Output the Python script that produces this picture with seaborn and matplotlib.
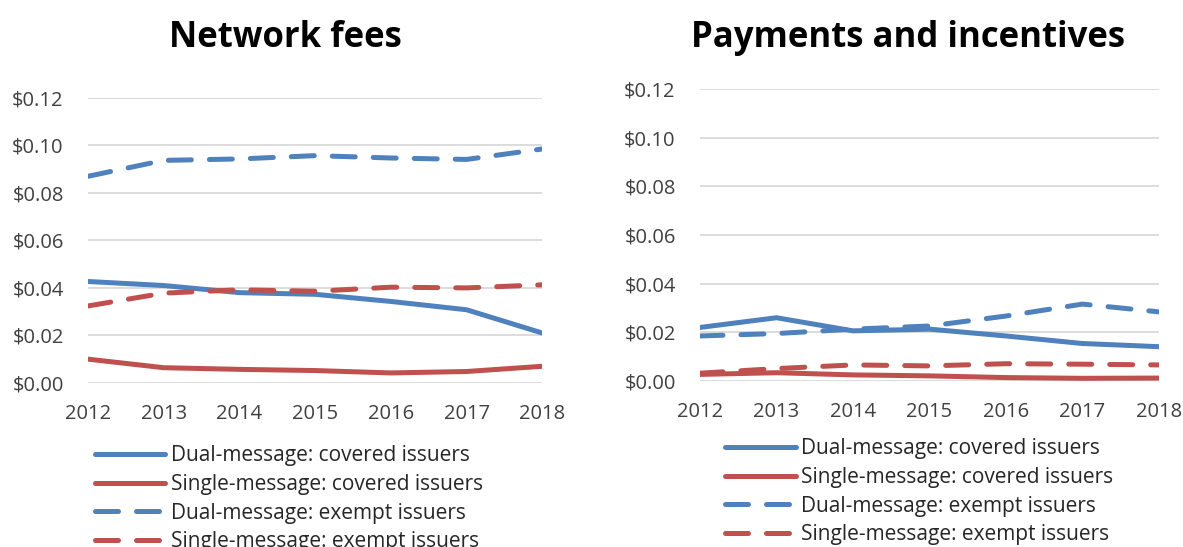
import pandas as pd
import matplotlib.pyplot as plt
import seaborn as sns
from matplotlib.lines import Line2D
from matplotlib.ticker import FuncFormatter

years = [2012, 2013, 2014, 2015, 2016, 2017, 2018]

# Network fees
fees_dual_covered = [0.0427, 0.0410, 0.0380, 0.0373, 0.0343, 0.0308, 0.0210]
fees_single_covered = [0.0100, 0.0064, 0.0057, 0.0052, 0.0042, 0.0048, 0.0070]
fees_dual_exempt = [0.0870, 0.0937, 0.0943, 0.0957, 0.0947, 0.0941, 0.0985]
fees_single_exempt = [0.0324, 0.0378, 0.0392, 0.0386, 0.0403, 0.0400, 0.0413]

# Payments and incentives
pay_dual_covered = [0.0220, 0.0260, 0.0206, 0.0213, 0.0185, 0.0154, 0.0141]
pay_single_covered = [0.0027, 0.0034, 0.0025, 0.0021, 0.0014, 0.0011, 0.0012]
pay_dual_exempt = [0.0185, 0.0195, 0.0213, 0.0226, 0.0267, 0.0316, 0.0284]
pay_single_exempt = [0.0032, 0.0051, 0.0066, 0.0062, 0.0071, 0.0069, 0.0066]

series_names = ["Dual-message: covered issuers", "Single-message: covered issuers",
                "Dual-message: exempt issuers", "Single-message: exempt issuers"]

BLUE = "#4F81BD"
RED = "#C0504D"
DASH = (0, (4.6, 3.6))
styles = {
    series_names[0]: (BLUE, "-"),
    series_names[1]: (RED, "-"),
    series_names[2]: (BLUE, DASH),
    series_names[3]: (RED, DASH),
}

sns.set_style("white")
plt.rcParams["font.family"] = ["Open Sans", "DejaVu Sans"]


def make_df(a, b, c, d):
    rows = []
    for name, vals in zip(series_names, [a, b, c, d]):
        for y, v in zip(years, vals):
            rows.append({"year": y, "value": v, "series": name})
    return pd.DataFrame(rows)


def draw(ax, df):
    for name in series_names:
        color, ls = styles[name]
        sub = df[df["series"] == name]
        sns.lineplot(x="year", y="value", data=sub, ax=ax, color=color,
                     linewidth=3.6, linestyle=ls, legend=False,
                     dash_capstyle="round", solid_capstyle="round")
    ax.set_xlim(2012, 2018)
    ax.set_ylim(0, 0.12)
    ax.set_yticks([0, 0.02, 0.04, 0.06, 0.08, 0.10, 0.12])
    ax.set_xticks(years)
    ax.yaxis.set_major_formatter(FuncFormatter(lambda v, p: "${:.2f}".format(v)))
    ax.grid(axis="y", color="#d9d9d9", linewidth=1.3)
    ax.set_axisbelow(True)
    for s in ax.spines.values():
        s.set_visible(False)
    ax.tick_params(axis="both", length=0, labelsize=14.5, labelcolor="#404040")
    ax.tick_params(axis="x", pad=15)
    ax.tick_params(axis="y", pad=17.5)
    ax.set_xlabel("")
    ax.set_ylabel("")


fig = plt.figure(figsize=(11.83, 5.47), dpi=100)
ax1 = fig.add_axes([0.0744, 0.300, 0.384, 0.521])
ax2 = fig.add_axes([0.5917, 0.3035, 0.3880, 0.5338])

draw(ax1, make_df(fees_dual_covered, fees_single_covered, fees_dual_exempt, fees_single_exempt))
draw(ax2, make_df(pay_dual_covered, pay_single_covered, pay_dual_exempt, pay_single_exempt))

fig.text(0.241, 0.914, "Network fees", ha="center", va="baseline",
         fontsize=25, fontweight="bold", color="black")
fig.text(0.768, 0.914, "Payments and incentives", ha="center", va="baseline",
         fontsize=25, fontweight="bold", color="black")

handles = []
for name in series_names:
    color, ls = styles[name]
    handles.append(Line2D([], [], color=color, linewidth=3.6, linestyle=ls,
                          dash_capstyle="round", solid_capstyle="round"))

for x0, y0 in [(0.080, 0.186), (0.613, 0.199)]:
    fig.legend(handles, series_names, loc="upper left", bbox_to_anchor=(x0, y0),
               frameon=False, fontsize=15, handlelength=3.4, handletextpad=0.25,
               labelspacing=0.37, borderpad=0, borderaxespad=0, labelcolor="#262626")

fig.savefig("out.png", dpi=100)
plt.close()
